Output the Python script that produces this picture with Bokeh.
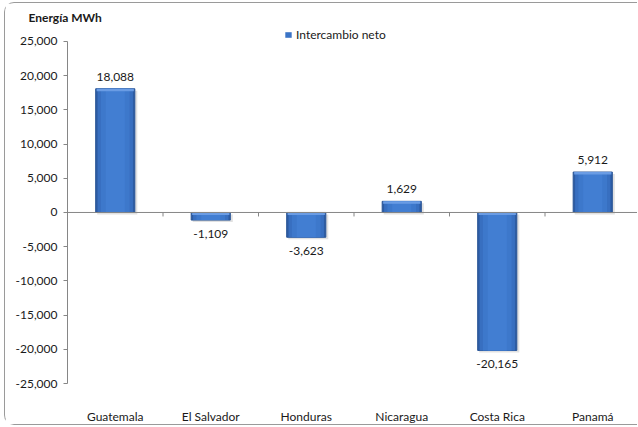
from bokeh.plotting import figure
from bokeh.models import (ColumnDataSource, FixedTicker, NumeralTickFormatter, Span,
                          Legend, LegendItem, Range1d)
from bokeh.core.properties import value
from bokeh.embed import file_html
from bokeh.resources import INLINE

# ---- data ----
countries = ["Guatemala", "El Salvador", "Honduras", "Nicaragua", "Costa Rica", "Panamá"]
values = [18088, -1109, -3623, 1629, -20165, 5912]
y_ticks = [-25000, -20000, -15000, -10000, -5000, 0, 5000, 10000, 15000, 20000, 25000]
series_name = "Intercambio neto"
y_title = "Energía MWh"

FONT = "Lato"
TXT = "#1a1a1a"
AXC = "#868686"

n = len(countries)
xs = [i + 0.5 for i in range(n)]
labels = [f"{v:,}" for v in values]

W, H = 633, 423
TOP, LEFT = 21, 62
AXIS_H = 343          # pixels spanned by the y axis
EXTRA = 17            # band above the axis top that holds the legend
FRAME_H = AXIS_H + EXTRA
BOTTOM = H - TOP - FRAME_H
ymin, ymax = y_ticks[0], y_ticks[-1]
upp = (ymax - ymin) / AXIS_H  # data units per pixel
cat_px = 95.5
x_end = (W - LEFT) / cat_px

p = figure(width=W, height=H, output_backend="svg", toolbar_location=None,
           x_range=Range1d(0, x_end), y_range=Range1d(ymin, ymax + EXTRA * upp),
           min_border_left=LEFT, min_border_right=0, min_border_top=TOP,
           min_border_bottom=BOTTOM)
p.outline_line_color = None
p.xgrid.visible = False
p.ygrid.visible = False
p.background_fill_color = "white"
p.border_fill_color = "white"
p.styles = {"margin-left": "4px", "margin-top": "2px",
            "border-left": "1px solid #9a9a9a", "border-top": "1px solid #9a9a9a",
            "border-bottom": "1px solid #9a9a9a", "border-radius": "10px 0 0 10px"}

# title
p.title.text = y_title
p.title.align = "left"
p.title.offset = -39
p.title.standoff = 0
p.title.text_font = FONT
p.title.text_font_size = "12px"
p.title.text_font_style = "bold"
p.title.text_color = TXT

# shadow
sh = ColumnDataSource(dict(x=[x + 2 / cat_px for x in xs],
                           top=[max(v, 0) - 2 * upp for v in values],
                           bottom=[min(v, 0) - 2 * upp for v in values]))
p.vbar(x="x", top="top", bottom="bottom", width=0.42, source=sh,
       fill_color="#bdbdbd", fill_alpha=0.45, line_color=None)

src = ColumnDataSource(dict(x=xs, v=values, zero=[0] * n, lab=labels,
                            off=[-12 if v >= 0 else 14 for v in values]))
p.vbar(x="x", top="v", bottom="zero", width=0.41, source=src,
       fill_color="#2D5CA3", line_color="#2A5596", line_width=1)
p.vbar(x="x", top="v", bottom="zero", width=0.37, source=src,
       fill_color="#386FC0", line_color=None)
p.vbar(x="x", top="v", bottom="zero", width=0.30, source=src,
       fill_color="#3D78CB", line_color=None)
p.vbar(x="x", top="v", bottom="zero", width=0.20, source=src,
       fill_color="#427ED2", line_color=None)
# top bevel highlight
hl = ColumnDataSource(dict(x=xs, top=[max(v, 0) for v in values],
                           bottom=[max(v, 0) - 2.5 * upp for v in values]))
p.vbar(x="x", top="top", bottom="bottom", width=0.39, source=hl,
       fill_color="#6A9CE4", line_color=None)

# zero-size rect renderer, used only as the legend swatch
swatch = p.rect(x="x", y="zero", width=0, height=0, source=src,
                fill_color="#3B74C6", line_color="#2A5596", line_width=1,
                line_alpha=0)

# zero line with ticks at category boundaries
p.add_layout(Span(location=0, dimension="width", line_color=AXC, line_width=1))
bounds = list(range(1, n + 1))
p.segment(x0=bounds, x1=bounds, y0=[0] * len(bounds), y1=[-4 * upp] * len(bounds),
          line_color=AXC, line_width=1)

# data labels
p.text(x="x", y="v", text="lab", y_offset="off", source=src,
       text_align="center", text_baseline="middle",
       text_font=value(FONT), text_font_size="12px", text_color=TXT)

# y axis
p.yaxis.ticker = FixedTicker(ticks=y_ticks)
p.yaxis.bounds = (ymin, ymax)
p.yaxis.formatter = NumeralTickFormatter(format="0,0")
p.yaxis.axis_line_color = AXC
p.yaxis.major_tick_line_color = AXC
p.yaxis.major_tick_out = 4
p.yaxis.major_tick_in = 0
p.yaxis.minor_tick_line_color = None
p.yaxis.major_label_standoff = 6
p.yaxis.major_label_text_font = FONT
p.yaxis.major_label_text_font_size = "12px"
p.yaxis.major_label_text_color = TXT

# x axis (labels at bottom)
p.xaxis.ticker = FixedTicker(ticks=xs)
p.xaxis.major_label_overrides = {x: c for x, c in zip(xs, countries)}
p.xaxis.axis_line_color = None
p.xaxis.major_tick_line_color = None
p.xaxis.minor_tick_line_color = None
p.xaxis.major_label_standoff = 19
p.xaxis.major_label_text_font = FONT
p.xaxis.major_label_text_font_size = "12px"
p.xaxis.major_label_text_color = TXT

# legend (inside the band above the axis top)
legend = Legend(items=[LegendItem(label=series_name, renderers=[swatch], index=0)],
                location=(217, AXIS_H - 2), orientation="horizontal",
                border_line_color=None, background_fill_alpha=0,
                padding=0, margin=0, glyph_width=8, glyph_height=7,
                label_standoff=4, label_height=14,
                label_text_font=FONT, label_text_font_size="12px",
                label_text_color=TXT)
p.add_layout(legend, "center")

open("out.html", "w").write(file_html(p, INLINE))
